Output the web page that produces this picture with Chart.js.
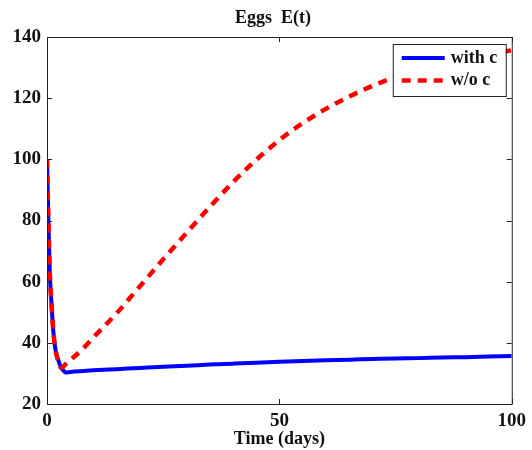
<!DOCTYPE html>
<html>
<head>
<meta charset="utf-8">
<script src="https://cdn.jsdelivr.net/npm/chart.js@4/dist/chart.umd.min.js"></script>
<style>
  html, body { margin: 0; padding: 0; background: #fff; }
  #wrap { width: 532px; height: 450px; }
</style>
</head>
<body>
<div id="wrap"><canvas id="eggs-chart" width="532" height="450"></canvas></div>
<script>
// Egg population over time, with and without control
const timeDays = [0, 0.3, 0.6, 1, 1.4, 1.8, 2.3, 3, 3.5, 4, 5, 7.8, 10, 15, 20, 25, 30, 35, 40, 45, 50, 55, 60, 65, 70, 75, 80, 85, 90, 95, 100];
const withC = [100, 80, 63, 52, 43, 38, 35, 32, 31, 30.3, 30.5, 30.8, 31, 31.4, 31.8, 32.2, 32.5, 32.9, 33.2, 33.5, 33.8, 34.1, 34.3, 34.5, 34.7, 34.9, 35, 35.2, 35.3, 35.5, 35.7];
const withoutC = [100, 80, 63, 52, 43, 38, 34.5, 31.9, 32.2, 33, 34.3, 38.2, 41.8, 49.7, 58.5, 67.3, 75.9, 84.4, 92.5, 99.8, 106.3, 111.8, 116.5, 120.5, 124, 127, 129.5, 131.5, 133.2, 134.5, 135.6];
const seriesLabels = ['with c', 'w/o c'];
const titleText = 'Eggs  E(t)';
const xTicks = [0, 50, 100];
const yTicks = [20, 40, 60, 80, 100, 120, 140];

const FONT = "'Liberation Serif', 'Times New Roman', serif";

function toPoints(ys) {
  return timeDays.map((t, i) => ({ x: t, y: ys[i] }));
}

// Title centred a little right of the canvas middle, over the plot
const titlePlugin = {
  id: 'plotTitle',
  afterDraw(chart) {
    const { ctx } = chart;
    ctx.save();
    ctx.fillStyle = '#111';
    ctx.font = 'bold 18px ' + FONT;
    ctx.textAlign = 'center';
    ctx.textBaseline = 'middle';
    ctx.fillText(titleText, 273, 18);
    ctx.restore();
  }
};

// Box round the plot with inward tick marks on all four sides
const boxPlugin = {
  id: 'boxTicks',
  afterDatasetsDraw(chart) {
    const { ctx, chartArea: a, scales } = chart;
    const len = 5;
    ctx.save();
    ctx.strokeStyle = '#222';
    ctx.lineWidth = 1;
    ctx.beginPath();
    ctx.rect(a.left + 0.5, a.top + 0.5, a.right - a.left, a.bottom - a.top);
    yTicks.forEach(v => {
      const y = Math.round(scales.y.getPixelForValue(v)) + 0.5;
      ctx.moveTo(a.left, y); ctx.lineTo(a.left + len, y);
      ctx.moveTo(a.right, y); ctx.lineTo(a.right - len, y);
    });
    xTicks.forEach(v => {
      const x = Math.round(scales.x.getPixelForValue(v)) + 0.5;
      ctx.moveTo(x, a.bottom); ctx.lineTo(x, a.bottom - len);
      ctx.moveTo(x, a.top); ctx.lineTo(x, a.top + len);
    });
    ctx.stroke();
    ctx.restore();
  }
};

// Legend drawn inside the top-right corner of the plot
const insideLegend = {
  id: 'insideLegend',
  afterDraw(chart) {
    const { ctx, chartArea: a } = chart;
    const w = 113, h = 52;
    const x0 = a.right - w - 6, y0 = a.top + 7;
    ctx.save();
    ctx.fillStyle = '#fff';
    ctx.fillRect(x0, y0, w, h);
    ctx.strokeStyle = '#222';
    ctx.lineWidth = 1;
    ctx.strokeRect(x0 + 0.5, y0 + 0.5, w, h);
    chart.data.datasets.forEach((ds, i) => {
      const y = y0 + 14 + i * 22.5;
      ctx.beginPath();
      ctx.strokeStyle = ds.borderColor;
      ctx.lineWidth = ds.borderWidth;
      ctx.setLineDash(ds.borderDash || []);
      ctx.moveTo(x0 + 9, y);
      ctx.lineTo(x0 + 52, y);
      ctx.stroke();
      ctx.setLineDash([]);
      ctx.fillStyle = '#111';
      ctx.font = 'bold 18px ' + FONT;
      ctx.textBaseline = 'middle';
      ctx.fillText(ds.label, x0 + 58, y);
    });
    ctx.restore();
  }
};

new Chart(document.getElementById('eggs-chart'), {
  type: 'line',
  data: {
    datasets: [
      {
        label: seriesLabels[0],
        data: toPoints(withC),
        borderColor: '#0000ff',
        borderWidth: 4,
        pointRadius: 0,
        cubicInterpolationMode: 'monotone',
        order: 2,
      },
      {
        label: seriesLabels[1],
        data: toPoints(withoutC),
        borderColor: '#ff0000',
        borderWidth: 4.5,
        borderDash: [9, 7],
        pointRadius: 0,
        cubicInterpolationMode: 'monotone',
        order: 1,
      },
    ],
  },
  options: {
    responsive: false,
    animation: false,
    layout: { padding: { left: 0, right: 20, top: 37, bottom: 0 } },
    plugins: {
      legend: { display: false },
      tooltip: { enabled: false },
      title: { display: false },
    },
    scales: {
      x: {
        type: 'linear',
        min: 0,
        max: 100,
        afterBuildTicks: s => { s.ticks = xTicks.map(v => ({ value: v })); },
        afterFit: s => { s.height = 46; },
        grid: { display: false, drawTicks: false },
        border: { display: false },
        ticks: {
          padding: 6,
          color: '#111',
          maxRotation: 0,
          font: { family: FONT, size: 19, weight: 'bold' },
        },
        title: {
          display: true,
          text: 'Time (days)',
          color: '#111',
          padding: { top: 0, bottom: 0 },
          font: { family: FONT, size: 18, weight: 'bold' },
        },
      },
      y: {
        min: 20,
        max: 140,
        afterBuildTicks: s => { s.ticks = yTicks.map(v => ({ value: v })); },
        afterFit: s => { s.width = 47; },
        grid: { display: false, drawTicks: false },
        border: { display: false },
        ticks: {
          padding: 6,
          color: '#111',
          font: { family: FONT, size: 19, weight: 'bold' },
        },
      },
    },
  },
  plugins: [boxPlugin, insideLegend, titlePlugin],
});
</script>
</body>
</html>
